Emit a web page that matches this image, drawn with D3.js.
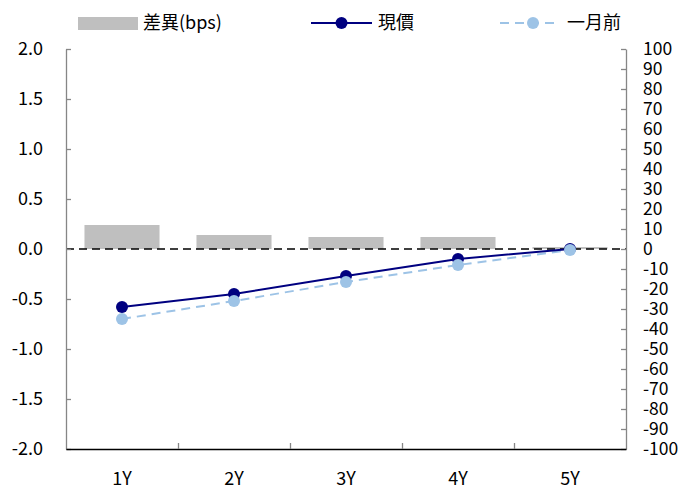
<!DOCTYPE html>
<html>
<head>
<meta charset="utf-8">
<script src="https://cdn.jsdelivr.net/npm/d3@7"></script>
<style>
  html, body { margin: 0; padding: 0; background: #fff; }
  svg text { font-family: "Noto Sans CJK TC", "Noto Sans", sans-serif; }
</style>
</head>
<body>
<svg id="chart" width="686" height="490"></svg>
<script>
// ---- data ----
const categories = ["1Y", "2Y", "3Y", "4Y", "5Y"];
const current = [-0.58, -0.45, -0.27, -0.10, 0.00];      // 現價
const monthAgo = [-0.70, -0.52, -0.33, -0.16, -0.01];    // 一月前
const diffBps = [12, 7, 6, 6, 1];                         // 差異(bps)
const leftTicks = [-2.0, -1.5, -1.0, -0.5, 0.0, 0.5, 1.0, 1.5, 2.0];
const rightTicks = [-100, -90, -80, -70, -60, -50, -40, -30, -20, -10, 0, 10, 20, 30, 40, 50, 60, 70, 80, 90, 100];
const seriesNames = ["差異(bps)", "現價", "一月前"];

// ---- layout ----
const svg = d3.select("#chart");
const plotL = 66, plotR = 626, plotT = 49, plotB = 449;
const fontSize = 18;

const x = d3.scaleBand().domain(categories).range([plotL, plotR]).paddingInner(0.33).paddingOuter(0.165);
const xc = d => x(d) + x.bandwidth() / 2;
const xBound = d3.scaleLinear().domain([0, categories.length]).range([plotL, plotR]);
const yL = d3.scaleLinear().domain([-2, 2]).range([plotB, plotT]);
const yR = d3.scaleLinear().domain([-100, 100]).range([plotB, plotT]);

// bars
svg.append("g").selectAll("rect").data(categories).join("rect")
  .attr("x", d => x(d))
  .attr("width", x.bandwidth())
  .attr("y", (d, i) => Math.min(yR(diffBps[i]), yR(0)))
  .attr("height", (d, i) => Math.abs(yR(diffBps[i]) - yR(0)))
  .attr("fill", "#BFBFBF");

// zero dashed line
svg.append("line")
  .attr("x1", plotL).attr("x2", plotR)
  .attr("y1", yL(0)).attr("y2", yL(0))
  .attr("stroke", "#000").attr("stroke-width", 1.3)
  .attr("stroke-dasharray", "8,5");

// axes
const axL = svg.append("g").attr("transform", `translate(${plotL},0)`)
  .call(d3.axisLeft(yL).tickValues(leftTicks).tickFormat(d => d.toFixed(1))
    .tickSizeInner(-5).tickSizeOuter(0).tickPadding(23));
const axR = svg.append("g").attr("transform", `translate(${plotR},0)`)
  .call(d3.axisRight(yR).tickValues(rightTicks).tickFormat(d => String(d))
    .tickSizeInner(-5).tickSizeOuter(0).tickPadding(17));
const axB = svg.append("g").attr("transform", `translate(0,${plotB})`)
  .call(d3.axisBottom(xBound).tickValues([1, 2, 3, 4]).tickFormat("")
    .tickSizeInner(-6).tickSizeOuter(0));
const axBL = svg.append("g").attr("transform", `translate(0,${plotB})`)
  .call(d3.axisBottom(x).tickSize(0).tickPadding(23));
axBL.select(".domain").remove();

[axL, axR].forEach(g => {
  g.select(".domain").attr("stroke", "#868686").attr("stroke-width", 1.3);
  g.selectAll(".tick line").attr("stroke", "#868686").attr("stroke-width", 1.3);
});
axB.select(".domain").attr("stroke", "#000").attr("stroke-width", 1.3);
axB.selectAll(".tick line").attr("stroke", "#868686").attr("stroke-width", 1.3);
svg.selectAll(".tick text").attr("font-size", fontSize).attr("fill", "#000")
  .attr("font-family", '"Noto Sans CJK TC", "Noto Sans", sans-serif');
axR.selectAll(".tick text").attr("font-size", 17.5);

// lines
const lineGen = vals => d3.line().x((d, i) => xc(categories[i])).y(d => yL(d))(vals);

svg.append("path").attr("d", lineGen(monthAgo))
  .attr("fill", "none").attr("stroke", "#9DC3E6").attr("stroke-width", 2)
  .attr("stroke-dasharray", "9,6");
svg.append("path").attr("d", lineGen(current))
  .attr("fill", "none").attr("stroke", "#000080").attr("stroke-width", 2);

svg.append("g").selectAll("circle").data(current).join("circle")
  .attr("cx", (d, i) => xc(categories[i])).attr("cy", d => yL(d)).attr("r", 6)
  .attr("fill", "#000080");
svg.append("g").selectAll("circle").data(monthAgo).join("circle")
  .attr("cx", (d, i) => xc(categories[i])).attr("cy", d => yL(d)).attr("r", 6)
  .attr("fill", "#9DC3E6");

// legend
const lg = svg.append("g");
const ly = 23;
lg.append("rect").attr("x", 78).attr("y", ly - 6).attr("width", 60).attr("height", 13).attr("fill", "#BFBFBF");
lg.append("text").attr("x", 143).attr("y", ly).attr("dy", "0.35em").attr("font-size", fontSize).text(seriesNames[0]);

lg.append("line").attr("x1", 311).attr("x2", 372).attr("y1", ly).attr("y2", ly)
  .attr("stroke", "#000080").attr("stroke-width", 2);
lg.append("circle").attr("cx", 341.5).attr("cy", ly).attr("r", 6).attr("fill", "#000080");
lg.append("text").attr("x", 378).attr("y", ly).attr("dy", "0.35em").attr("font-size", fontSize).text(seriesNames[1]);

lg.append("line").attr("x1", 500).attr("x2", 557).attr("y1", ly).attr("y2", ly)
  .attr("stroke", "#9DC3E6").attr("stroke-width", 2).attr("stroke-dasharray", "9,6");
lg.append("circle").attr("cx", 533).attr("cy", ly).attr("r", 6).attr("fill", "#9DC3E6");
lg.append("text").attr("x", 567).attr("y", ly).attr("dy", "0.35em").attr("font-size", fontSize).text(seriesNames[2]);
</script>
</body>
</html>
